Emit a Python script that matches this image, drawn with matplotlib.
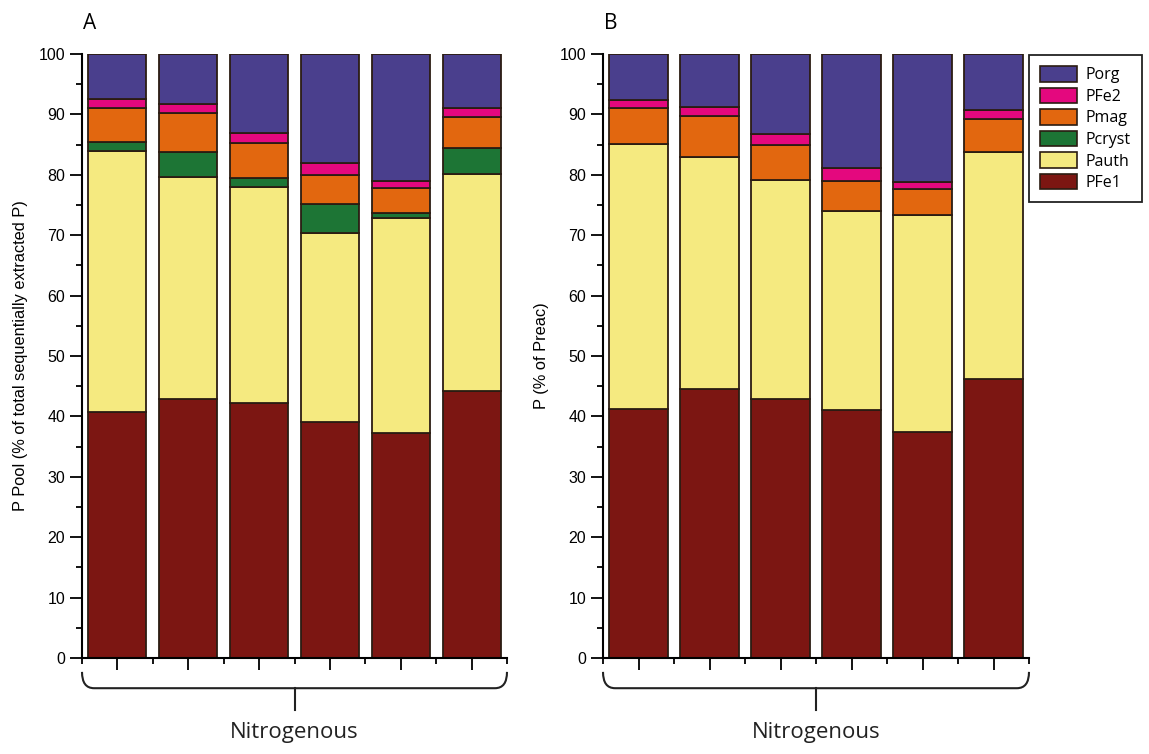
import numpy as np
import matplotlib
matplotlib.use("Agg")
import matplotlib.pyplot as plt
from matplotlib.path import Path
from matplotlib.patches import PathPatch, Patch

plt.rcParams['font.family'] = ['Liberation Sans', 'DejaVu Sans']

# cumulative tops, converted to layer sizes below
samples = ['1', '2', '3', '4', '5', '6']
layers = ['PFe1', 'Pauth', 'Pcryst', 'Pmag', 'PFe2', 'Porg']
colors = {'PFe1': '#7c1612', 'Pauth': '#f5ea80', 'Pcryst': '#1d7535',
          'Pmag': '#e2670f', 'PFe2': '#e4087e', 'Porg': '#4a3f8d'}

# panel A: PFe1, Pauth, Pcryst, Pmag, PFe2 (cumulative), Porg fills to 100
a_pfe1 = [40.8, 42.8, 42.2, 39.1, 37.2, 44.2]
a_pauth = [84.0, 79.6, 77.9, 70.4, 72.8, 80.1]
a_pcryst = [85.4, 83.8, 79.5, 75.1, 73.6, 84.5]
a_pmag = [91.1, 90.2, 85.3, 80.0, 77.8, 89.6]
a_pfe2 = [92.5, 91.7, 87.0, 82.0, 79.0, 91.1]

# panel B: no Pcryst
b_pfe1 = [41.3, 44.6, 42.8, 41.0, 37.5, 46.2]
b_pauth = [85.1, 83.0, 79.1, 74.0, 73.4, 83.7]
b_pcryst = [85.1, 83.0, 79.1, 74.0, 73.4, 83.7]
b_pmag = [91.0, 89.8, 85.0, 79.0, 77.7, 89.2]
b_pfe2 = [92.4, 91.3, 86.8, 81.1, 78.8, 90.7]


def layer_sizes(cums):
    tops = [np.array(c) for c in cums] + [np.full(len(cums[0]), 100.0)]
    out, prev = [], np.zeros(len(cums[0]))
    for t in tops:
        out.append(t - prev)
        prev = t
    return out


fig = plt.figure(figsize=(11.49, 7.54), dpi=100)
W, H = 1149, 754
axA = fig.add_axes([82 / W, 96 / H, 425 / W, 604 / H])
axB = fig.add_axes([603 / W, 96 / H, 426 / W, 604 / H])

edge = '#2b1c12'
for ax, cums, lab, ylab in [
        (axA, [a_pfe1, a_pauth, a_pcryst, a_pmag, a_pfe2], 'A',
         'P Pool (% of total sequentially extracted P)'),
        (axB, [b_pfe1, b_pauth, b_pcryst, b_pmag, b_pfe2], 'B',
         'P (% of Preac)')]:
    x = np.arange(len(samples))
    bottom = np.zeros(len(samples))
    for name, size in zip(layers, layer_sizes(cums)):
        ax.bar(x, size, width=0.82, bottom=bottom, color=colors[name],
               edgecolor=edge, linewidth=1.3, zorder=2)
        bottom = bottom + size
    ax.set_xlim(-0.5, 5.5)
    ax.set_ylim(0, 100)
    ax.set_yticks(np.arange(0, 101, 10))
    ax.set_yticks(np.arange(5, 100, 10), minor=True)
    ax.set_xticks(x)
    ax.set_xticks(np.arange(-0.5, 6, 1), minor=True)
    ax.set_xticklabels([])
    ax.tick_params(axis='y', which='major', length=9, width=1.3, labelsize=11.5, pad=3)
    ax.tick_params(axis='y', which='minor', length=4.5, width=1.3)
    ax.tick_params(axis='x', which='major', length=8.5, width=1.3)
    ax.tick_params(axis='x', which='minor', length=4.5, width=1.3)
    for s in ['top', 'right']:
        ax.spines[s].set_visible(False)
    for s in ['left', 'bottom']:
        ax.spines[s].set_linewidth(1.5)
    ax.set_ylabel(ylab, fontsize=11.8, labelpad=8)
    ax.text(0.003, 1.042, lab, transform=ax.transAxes, fontsize=15,
            family=['Open Sans', 'DejaVu Sans'], ha='left', va='baseline')

    # curly bracket under the bars
    y0, y1, y2 = -2.3, -5.0, -8.6
    r = 0.17
    verts = [(-0.5, y0), (-0.5, y1), (-0.5 + r, y1), (5.5 - r, y1),
             (5.5, y1), (5.5, y0)]
    codes = [Path.MOVETO, Path.CURVE3, Path.CURVE3, Path.LINETO,
             Path.CURVE3, Path.CURVE3]
    ax.add_patch(PathPatch(Path(verts, codes), fill=False, lw=1.5,
                           ec='#222222', clip_on=False))
    ax.plot([2.5, 2.5], [y1, y2], color='#222222', lw=1.5, clip_on=False)
    ax.text(2.5, -12.3, 'Nitrogenous', ha='center', va='center', fontsize=16,
            family=['Open Sans', 'DejaVu Sans'], color='#222222')

handles = [Patch(facecolor=colors[n], edgecolor=edge, linewidth=1.2, label=n)
           for n in layers[::-1]]
leg = fig.legend(handles=handles, loc='upper left',
                 bbox_to_anchor=(1029 / W, 1 - 55 / H), borderaxespad=0,
                 fancybox=False, edgecolor='#222222', framealpha=1,
                 prop={'family': ['Open Sans', 'DejaVu Sans'], 'size': 11.5},
                 handlelength=2.3, handleheight=1.1, labelspacing=0.28,
                 handletextpad=0.55, borderpad=0.7)
leg.get_frame().set_linewidth(1.3)

fig.savefig('out.png', dpi=100)
